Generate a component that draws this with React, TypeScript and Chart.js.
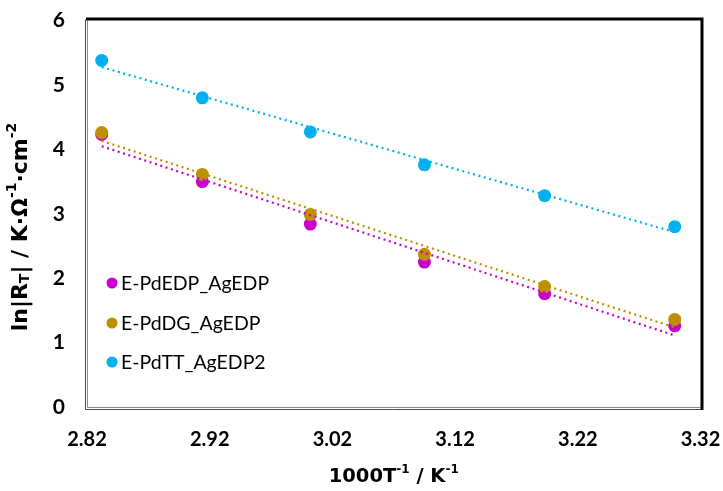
import React, { useEffect, useRef } from "react";
import Chart from "chart.js/auto";

const xValues = [2.832, 2.914, 3.002, 3.095, 3.193, 3.299];
const seriesNames = ["E-PdEDP_AgEDP", "E-PdDG_AgEDP", "E-PdTT_AgEDP2"];
const pdEdpValues = [4.23, 3.5, 2.84, 2.25, 1.76, 1.26];
const pdDgValues = [4.26, 3.61, 2.99, 2.37, 1.87, 1.36];
const pdTtValues = [5.38, 4.8, 4.27, 3.76, 3.28, 2.8];
const seriesColors = ["#CC00CC", "#BF8F00", "#00B0F0"];
const xTicks = [2.82, 2.92, 3.02, 3.12, 3.22, 3.32];
const yTicks = [0, 1, 2, 3, 4, 5, 6];

const FONT = "Lato, 'Noto Sans', sans-serif";
const TITLE_FONT = "'DejaVu Sans', sans-serif";

function fit(xs: number[], ys: number[]) {
  const n = xs.length;
  const mx = xs.reduce((a, b) => a + b, 0) / n;
  const my = ys.reduce((a, b) => a + b, 0) / n;
  let sxy = 0, sxx = 0;
  for (let i = 0; i < n; i++) {
    sxy += (xs[i] - mx) * (ys[i] - my);
    sxx += (xs[i] - mx) * (xs[i] - mx);
  }
  const m = sxy / sxx;
  const b = my - m * mx;
  const x0 = Math.min(...xs), x1 = Math.max(...xs);
  return [{ x: x0, y: m * x0 + b }, { x: x1, y: m * x1 + b }];
}

const framePlugin = {
  id: "frame",
  afterDraw(chart: any) {
    const { ctx, chartArea } = chart;
    const { left, right, top, bottom } = chartArea;
    ctx.save();
    ctx.lineWidth = 1;
    ctx.strokeStyle = "#4a4a4a";
    ctx.beginPath();
    ctx.moveTo(left - 1.5, top - 1);
    ctx.lineTo(left - 1.5, bottom + 2.5);
    ctx.lineTo(right + 1, bottom + 2.5);
    ctx.stroke();
    ctx.strokeStyle = "#8a8a8a";
    ctx.beginPath();
    ctx.moveTo(left + 0.5, top);
    ctx.lineTo(left + 0.5, bottom + 0.5);
    ctx.lineTo(right, bottom + 0.5);
    ctx.stroke();
    ctx.strokeStyle = "#000";
    ctx.lineWidth = 3;
    ctx.beginPath();
    ctx.moveTo(left - 1, top - 1.5);
    ctx.lineTo(right + 1.5, top - 1.5);
    ctx.lineTo(right + 1.5, bottom + 3);
    ctx.stroke();

    // legend inside plot area
    const rows = [283, 323, 362];
    ctx.font = `19.5px ${FONT}`;
    ctx.textBaseline = "middle";
    ctx.textAlign = "left";
    seriesNames.forEach((name, i) => {
      ctx.fillStyle = seriesColors[i];
      ctx.beginPath();
      ctx.arc(112, rows[i], 5.5, 0, Math.PI * 2);
      ctx.fill();
      ctx.fillStyle = "#000";
      ctx.fillText(name, 121, rows[i] + 1);
    });

    const drawRich = (parts: { t: string; k: "n" | "sup" | "sub" }[], size: number) => {
      const fontFor = (k: string) => `bold ${k === "n" ? size : Math.round(size * 0.62)}px ${TITLE_FONT}`;
      let total = 0;
      const widths = parts.map((p) => {
        ctx.font = fontFor(p.k);
        const w = ctx.measureText(p.t).width;
        total += w;
        return w;
      });
      let x = -total / 2;
      parts.forEach((p, i) => {
        ctx.font = fontFor(p.k);
        const dy = p.k === "sup" ? -size * 0.38 : p.k === "sub" ? size * 0.22 : 0;
        ctx.fillText(p.t, x, dy);
        x += widths[i];
      });
    };
    ctx.fillStyle = "#000";
    ctx.textBaseline = "middle";
    ctx.save();
    ctx.translate((left + right) / 2, 477);
    drawRich(
      [
        { t: "1000T", k: "n" },
        { t: "-1", k: "sup" },
        { t: " / K", k: "n" },
        { t: "-1", k: "sup" },
      ],
      19.5
    );
    ctx.restore();
    ctx.save();
    ctx.translate(21, 227);
    ctx.rotate(-Math.PI / 2);
    drawRich(
      [
        { t: "ln|R", k: "n" },
        { t: "T", k: "sub" },
        { t: "| / K·Ω", k: "n" },
        { t: "-1", k: "sup" },
        { t: "·cm", k: "n" },
        { t: "-2", k: "sup" },
      ],
      22
    );
    ctx.restore();
    ctx.restore();
  },
};

const zeroPad = (s: any) => {
  s.paddingTop = 0;
  s.paddingBottom = 0;
  s.paddingLeft = 0;
  s.paddingRight = 0;
};

export default function App() {
  const ref = useRef<HTMLCanvasElement>(null);
  useEffect(() => {
    const raw = [pdEdpValues, pdDgValues, pdTtValues];
    const pointSets = raw.map((vals, i) => ({
      type: "scatter" as const,
      label: seriesNames[i],
      data: xValues.map((x, j) => ({ x, y: vals[j] })),
      backgroundColor: seriesColors[i],
      borderColor: seriesColors[i],
      pointRadius: 6.5,
      pointBorderWidth: 0,
      showLine: false,
      order: 3 - i + 10,
    }));
    const trendSets = raw.map((vals, i) => ({
      type: "line" as const,
      label: "trend " + seriesNames[i],
      data: fit(xValues, vals),
      borderColor: seriesColors[i],
      borderWidth: 2.2,
      borderDash: [2, 3.6],
      pointRadius: 0,
      fill: false,
      order: 3 - i,
    }));
    const chart = new Chart(ref.current as HTMLCanvasElement, {
      type: "scatter",
      data: { datasets: [...pointSets, ...trendSets] as any },
      options: {
        animation: false,
        responsive: false,
        layout: { padding: { left: 0, right: 22.5, top: 20.5, bottom: 0 } },
        plugins: { legend: { display: false }, tooltip: { enabled: false } },
        scales: {
          x: {
            type: "linear",
            min: 2.82,
            max: 3.32,
            grid: { display: false, drawTicks: false },
            border: { display: false },
            afterBuildTicks: (s: any) => {
              s.ticks = xTicks.map((v) => ({ value: v }));
            },
            afterFit: (s: any) => {
              s.height = 84;
              zeroPad(s);
            },
            ticks: {
              padding: 21,
              color: "#000",
              font: { family: FONT, size: 20, weight: "bold" },
              callback: (v: any) => Number(v).toFixed(2),
            },
          },
          y: {
            type: "linear",
            min: 0,
            max: 6,
            grid: { display: false, drawTicks: false },
            border: { display: false },
            afterBuildTicks: (s: any) => {
              s.ticks = yTicks.map((v) => ({ value: v }));
            },
            afterFit: (s: any) => {
              s.width = 87;
              zeroPad(s);
            },
            ticks: {
              padding: 22,
              color: "#000",
              font: { family: FONT, size: 21, weight: "bold" },
              callback: (v: any) => String(v),
            },
          },
        },
      },
      plugins: [framePlugin],
    });
    return () => chart.destroy();
  }, []);
  return (
    <div style={{ position: "fixed", left: 0, top: 0, width: 723, height: 491, background: "#fff" }}>
      <canvas ref={ref} width={723} height={491} />
    </div>
  );
}
